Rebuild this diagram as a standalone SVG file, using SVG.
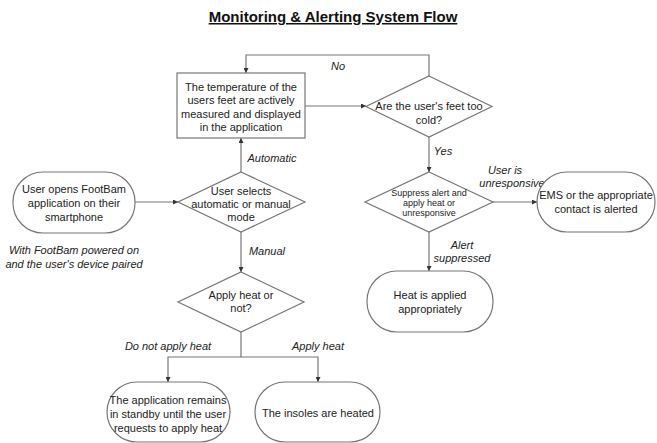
<svg xmlns="http://www.w3.org/2000/svg" width="657" height="443" viewBox="0 0 657 443">
<defs>
<marker id="ah" viewBox="0 0 8 8" refX="8" refY="4" markerWidth="5" markerHeight="5" orient="auto" markerUnits="userSpaceOnUse">
<path d="M0,0 L8,4 L0,8 z" fill="#333"/>
</marker>
<style>
.s{fill:#fff;stroke:#777;stroke-width:1.2}
.t{font-family:"Liberation Sans",Arial,sans-serif;font-size:11px;fill:#222;text-anchor:middle;dominant-baseline:central}
.sm{font-size:9px}
.l{font-family:"Liberation Sans",Arial,sans-serif;font-size:11px;fill:#222;font-style:italic;text-anchor:middle;dominant-baseline:central}
.c{fill:none;stroke:#777;stroke-width:1.2;marker-end:url(#ah)}
.cn{fill:none;stroke:#777;stroke-width:1.2}
.title{font-family:"Liberation Sans",Arial,sans-serif;font-size:15px;font-weight:bold;fill:#111;text-anchor:middle;text-decoration:underline}
</style>
</defs>
<rect width="657" height="443" fill="#fff"/>
<text class="title" x="333" y="22">Monitoring &amp; Alerting System Flow</text>

<g id="connectors">
<polyline class="c" points="429,76 429,55 246,55 246,73"/>
<line class="c" x1="305" y1="106" x2="366" y2="106"/>
<line class="c" x1="429" y1="137" x2="429" y2="172"/>
<line class="c" x1="493" y1="202" x2="537" y2="202"/>
<line class="c" x1="429" y1="232" x2="429" y2="271"/>
<line class="c" x1="135" y1="202" x2="178" y2="202"/>
<line class="c" x1="241" y1="172" x2="241" y2="138"/>
<line class="c" x1="241" y1="232" x2="241" y2="272"/>
<polyline class="cn" points="241,332 241,357"/>
<polyline class="c" points="241,357 168,357 168,382"/>
<polyline class="c" points="241,357 318,357 318,382"/>
<text class="l" x="338" y="66">No</text>
<text class="l" x="443" y="151">Yes</text>
<text class="l" x="505" y="170">User is</text>
<text class="l" x="512" y="183">unresponsive</text>
<text class="l" x="462" y="245">Alert</text>
<text class="l" x="462" y="258">suppressed</text>
<text class="l" x="272" y="158">Automatic</text>
<text class="l" x="267" y="251">Manual</text>
<text class="l" x="168" y="346">Do not apply heat</text>
<text class="l" x="318" y="346">Apply heat</text>
</g>

<g id="measure">
<rect class="s" x="177" y="73" width="128" height="65"/>
<text class="t" x="241" y="87">The temperature of the</text>
<text class="t" x="241" y="100">users feet are actively</text>
<text class="t" x="241" y="114">measured and displayed</text>
<text class="t" x="241" y="127">in the application</text>
</g>

<g id="too-cold">
<polygon class="s" points="429,76 492,106.5 429,137 366,106.5"/>
<text class="t" x="429" y="106">Are the user's feet too</text>
<text class="t" x="429" y="120">cold?</text>
</g>

<g id="suppress">
<polygon class="s" points="429,172 493,202 429,232 365,202"/>
<text class="t sm" x="429" y="193">Suppress alert and</text>
<text class="t sm" x="429" y="203">apply heat or</text>
<text class="t sm" x="429" y="213">unresponsive</text>
</g>

<g id="ems">
<rect class="s" x="537" y="172" width="118" height="60" rx="30" ry="30"/>
<text class="t" x="596" y="195">EMS or the appropriate</text>
<text class="t" x="596" y="209">contact is alerted</text>
</g>

<g id="heat-applied">
<rect class="s" x="367" y="271" width="126" height="61" rx="30" ry="30"/>
<text class="t" x="430" y="295">Heat is applied</text>
<text class="t" x="430" y="309">appropriately</text>
</g>

<g id="open-app">
<rect class="s" x="13" y="172" width="122" height="61" rx="30" ry="30"/>
<text class="t" x="74" y="189">User opens FootBam</text>
<text class="t" x="74" y="203">application on their</text>
<text class="t" x="74" y="217">smartphone</text>
<text class="l" x="74" y="250">With FootBam powered on</text>
<text class="l" x="74" y="264">and the user's device paired</text>
</g>

<g id="select-mode">
<polygon class="s" points="241,172 305,202 241,232 178,202"/>
<text class="t" x="241" y="191">User selects</text>
<text class="t" x="241" y="204">automatic or manual</text>
<text class="t" x="241" y="217">mode</text>
</g>

<g id="apply-heat">
<polygon class="s" points="241,272 304,302 241,332 178,302"/>
<text class="t" x="241" y="295">Apply heat or</text>
<text class="t" x="241" y="308">not?</text>
</g>

<g id="standby">
<rect class="s" x="107" y="382" width="123" height="60" rx="30" ry="30"/>
<text class="t" x="168" y="400">The application remains</text>
<text class="t" x="168" y="414">in standby until the user</text>
<text class="t" x="168" y="428">requests to apply heat</text>
</g>

<g id="insoles">
<rect class="s" x="255" y="382" width="125" height="60" rx="30" ry="30"/>
<text class="t" x="318" y="413">The insoles are heated</text>
</g>
</svg>
